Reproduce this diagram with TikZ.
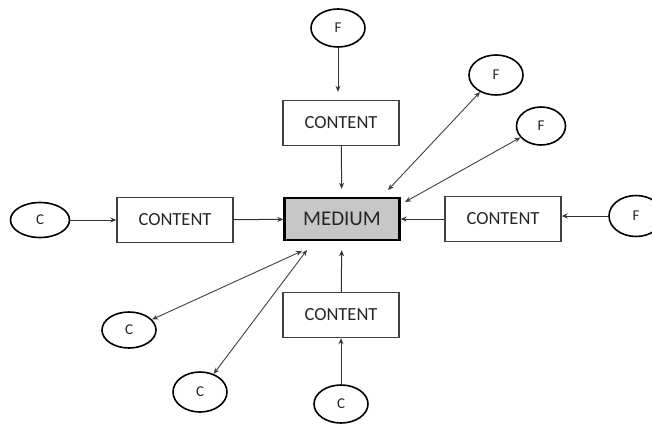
\documentclass[tikz,border=0pt]{standalone}
\usepackage{fontspec}
\setmainfont{Carlito}
\usetikzlibrary{arrows.meta,shapes.geometric}

\begin{document}
\begin{tikzpicture}[
  x=1pt,y=-1pt,
  box/.style={draw=black!75,line width=1.4pt,minimum width=116pt,minimum height=45pt,inner sep=0pt,font=\fontsize{18.5}{21}\selectfont,text=black!85},
  hub/.style={draw=black,line width=2.4pt,fill=black!22,minimum width=115pt,minimum height=42pt,inner sep=0pt,font=\fontsize{21}{24}\selectfont,text=black!85},
  source/.style={draw,ellipse,line width=1.6pt,minimum width=54pt,minimum height=38pt,inner sep=0pt,font=\fontsize{15}{17}\selectfont,text=black!85},
  arrow/.style={-{Stealth[length=6pt,width=5pt]},line width=1pt,black!80},
  twoway/.style={{Stealth[length=6pt,width=5pt]}-{Stealth[length=6pt,width=5pt]},line width=0.9pt,black!75}
]
\useasboundingbox (0,0) rectangle (652,425);

% the medium in the middle and the four content boxes
\node[hub] (medium) at (342,219) {MEDIUM};
\node[box] (ctop) at (341,123) {CONTENT};
\node[box] (cleft) at (175,220) {CONTENT};
\node[box] (cright) at (503,219) {CONTENT};
\node[box] (cbottom) at (341,315) {CONTENT};

% the outer sources
\node[source] (ftop) at (338,28) {F};
\node[source,minimum width=59pt,minimum height=35pt] (cfar) at (40,220) {C};
\node[source,minimum height=41pt] (fright) at (636,216) {F};
\node[source,minimum height=40pt] (fone) at (496,75) {F};
\node[source,minimum width=49pt] (ftwo) at (541,126) {F};
\node[source,minimum height=36pt] (cone) at (129,330) {C};
\node[source,minimum height=40pt] (ctwo) at (200,392) {C};
\node[source] (cbot) at (341,404) {C};

% free ends of the two-way links near the medium
\coordinate (ne) at (388,190);
\coordinate (ee) at (405,202);
\coordinate (sw) at (302,251);
\coordinate (ss) at (307,250);

\draw[arrow] (ftop) -- (ftop |- ctop.north) [shorten >=8pt];
\draw[arrow,shorten >=8pt] (ctop) -- (medium);
\draw[arrow] (cfar) -- (cleft);
\draw[arrow] (cleft) -- (medium);
\draw[arrow] (fright) -- (fright -| cright.east);
\draw[arrow] (cright) -- (medium);
\draw[arrow] (cbot) -- (cbottom);
\draw[arrow,shorten >=9pt] (cbottom) -- (medium);

\draw[twoway] (ne) -- (fone);
\draw[twoway] (ee) -- (ftwo);
\draw[twoway] (sw) -- (cone);
\draw[twoway] (ss) -- (ctwo);
\end{tikzpicture}
\end{document}
